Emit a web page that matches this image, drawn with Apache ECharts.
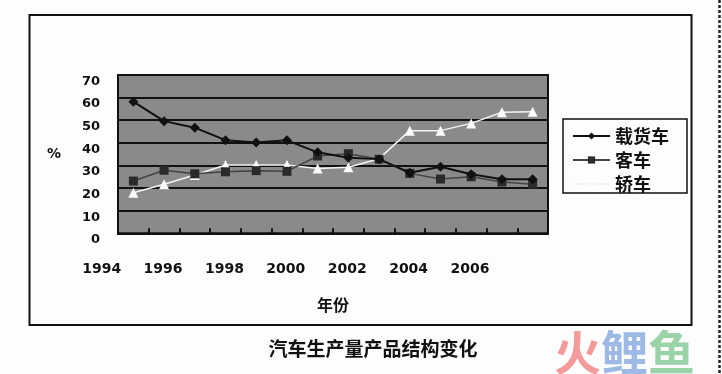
<!DOCTYPE html>
<html>
<head>
<meta charset="utf-8">
<script src="https://cdn.jsdelivr.net/npm/echarts@6/dist/echarts.min.js"></script>
<style>html,body{margin:0;padding:0;background:#fdfdfd;}#c{width:722px;height:374px;}</style>
</head>
<body>
<div id="c"></div>
<script>
const years = ['1995','1996','1997','1998','1999','2000','2001','2002','2003','2004','2005','2006','2007','2008'];
const yearLabels = ['1994','1996','1998','2000','2002','2004','2006'];
const truck = [58.2, 49.6, 46.7, 41.2, 40.2, 41.1, 35.8, 33.4, 32.8, 26.8, 29.4, 26.1, 23.9, 23.9];
const bus   = [23.1, 27.9, 26.3, 27.2, 27.7, 27.4, 34.2, 35.2, 32.7, 26.5, 24.0, 25.0, 22.7, 21.7];
const car   = [17.9, 21.7, 25.8, 30.2, 30.2, 30.2, 28.7, 29.2, 33.0, 45.4, 45.4, 48.6, 53.5, 53.8];
const seriesNames = ['载货车', '客车', '轿车'];
const titleText = '汽车生产量产品结构变化';
const xName = '年份';
const yName = '%';

const numFont = {fontFamily: 'DejaVu Sans', fontWeight: 'bold', fontSize: 13, color: '#111'};
const cjk = 'Noto Sans CJK SC';

const chart = echarts.init(document.getElementById('c'), null, {renderer: 'canvas'});
chart.setOption({
  animation: false,
  backgroundColor: '#fdfdfd',
  title: {
    text: titleText, left: 373, top: 339, textAlign: 'center', padding: 0,
    textStyle: {fontFamily: cjk, fontWeight: 'bold', fontSize: 19, color: '#111'}
  },
  legend: {
    orient: 'vertical', left: 563, top: 119,
    data: seriesNames,
    borderColor: '#111', borderWidth: 1.5, borderRadius: 0,
    padding: [8, 18, 0, 9],
    itemWidth: 37, itemHeight: 9, itemGap: 6,
    textStyle: {fontFamily: cjk, fontWeight: 'bold', fontSize: 18, lineHeight: 17, color: '#111'}
  },
  grid: [
    {left: 118, top: 75, width: 430, height: 158.3, show: true, backgroundColor: '#8a8a8a', borderColor: '#111', borderWidth: 2, containLabel: false},
    {left: 101.7, top: 240, width: 368.3, height: 10, show: false}
  ],
  xAxis: [
    {
      type: 'category', gridIndex: 0, data: years, boundaryGap: true,
      axisLine: {show: true, lineStyle: {color: '#111', width: 2}},
      axisTick: {show: true, inside: true, length: 5, interval: 0, lineStyle: {color: '#111', width: 2}},
      axisLabel: {show: false},
      name: xName, nameLocation: 'middle', nameGap: 64,
      nameTextStyle: {fontFamily: cjk, fontWeight: 'bold', fontSize: 16, color: '#111'}
    },
    {
      type: 'category', gridIndex: 1, data: yearLabels, boundaryGap: false,
      axisLine: {show: false}, axisTick: {show: false},
      axisLabel: Object.assign({margin: 12, interval: 0}, numFont, {fontSize: 14})
    }
  ],
  yAxis: [
    {
      type: 'value', gridIndex: 0, min: 0, max: 70, interval: 10,
      axisLine: {show: false}, axisTick: {show: false},
      splitLine: {show: true, lineStyle: {color: '#111', width: 2}},
      axisLabel: Object.assign({margin: 18, verticalAlign: 'top'}, numFont),
      name: yName, nameLocation: 'middle', nameRotate: 0, nameGap: 57,
      nameTextStyle: {fontFamily: 'DejaVu Sans', fontWeight: 'bold', fontSize: 14, color: '#111', padding: [4, 0, 0, 0]}
    },
    {type: 'value', gridIndex: 1, show: false}
  ],
  series: [
    {
      name: seriesNames[0], type: 'line', xAxisIndex: 0, yAxisIndex: 0, data: truck,
      symbol: 'diamond', symbolSize: 10,
      lineStyle: {color: '#111', width: 2}, itemStyle: {color: '#111'}, z: 4
    },
    {
      name: seriesNames[1], type: 'line', xAxisIndex: 0, yAxisIndex: 0, data: bus,
      symbol: 'rect', symbolSize: 9,
      lineStyle: {color: '#444', width: 1.5}, itemStyle: {color: '#2a2a2a'}, z: 3
    },
    {
      name: seriesNames[2], type: 'line', xAxisIndex: 0, yAxisIndex: 0, data: car,
      symbol: 'triangle', symbolSize: 10,
      lineStyle: {color: '#f4f4f4', width: 1.5}, itemStyle: {color: '#fbfbfb'}, z: 2
    }
  ],
  graphic: [
    {type: 'rect', shape: {x: 29.5, y: 15, width: 662, height: 310}, style: {fill: null, stroke: '#111', lineWidth: 2}, silent: true, z: 0},
    {type: 'line', shape: {x1: 719.5, y1: 0, x2: 719.5, y2: 374}, style: {stroke: '#222', lineWidth: 2.5, lineDash: [3, 2]}, silent: true},
    {
      type: 'text', left: 554, top: 329, silent: true,
      style: {
        text: '{a|火}{b|鲤}{c|鱼}',
        rich: {
          a: {fontFamily: cjk, fontWeight: 'bold', fontSize: 47, fill: '#f39a9a'},
          b: {fontFamily: cjk, fontWeight: 'bold', fontSize: 47, fill: '#9db9e6'},
          c: {fontFamily: cjk, fontWeight: 'bold', fontSize: 47, fill: '#9bd3a8'}
        }
      }
    }
  ]
});
</script>
</body>
</html>
